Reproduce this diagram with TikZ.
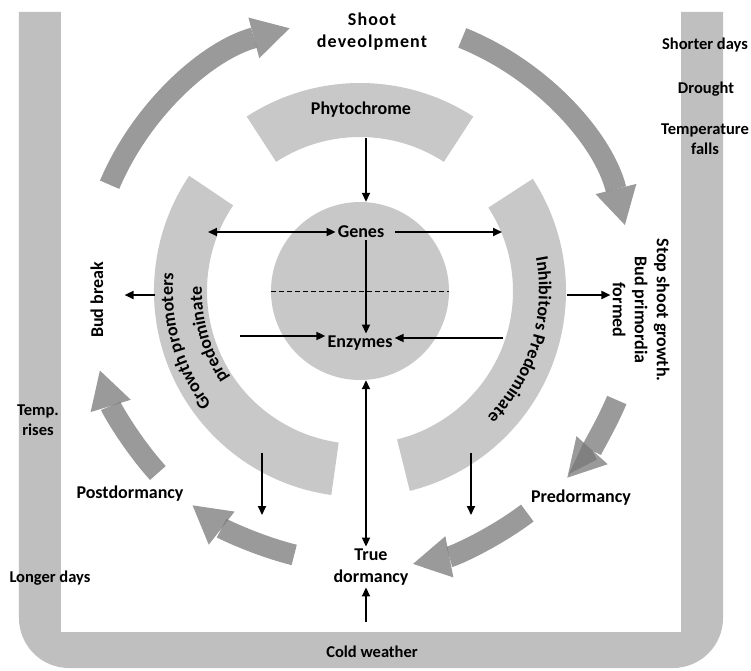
\documentclass[tikz,border=0pt]{standalone}
\usepackage{fontspec}
\setmainfont{Carlito}
\usepackage{tikz}
\usetikzlibrary{arrows.meta,positioning,decorations.text}

\definecolor{framegray}{RGB}{191,191,191}
\definecolor{bandgray}{RGB}{200,200,200}
\definecolor{cyclegray}{RGB}{120,120,120}
\newcommand{\stagefont}{\fontsize{18}{22}\selectfont\bfseries}
\newcommand{\cuefont}{\fontsize{16.5}{20}\selectfont\bfseries}

\begin{document}
\begin{tikzpicture}[
    x=1pt, y=1pt,
    stage/.style={font=\stagefont, align=center, inner sep=2pt},
    cue/.style={font=\cuefont, align=center, inner sep=2pt},
    band/.style={fill=bandgray},
    cyclearrow/.style={draw=cyclegray, opacity=0.75, line width=21pt,
                       -{Triangle[width=42pt, length=37pt, line width=0pt]}},
    arrow/.style={-{Triangle[length=9pt, width=8pt]}, line width=1.8pt},
    dblarrow/.style={{Triangle[length=9pt, width=8pt]}-{Triangle[length=9pt, width=8pt]}, line width=1.8pt}
]
    \useasboundingbox (-360,-379) rectangle (391,291);

    % Outer frame: seasonal cues
    \fill[framegray] (-341,279) -- (-341,-327) arc[start angle=180, end angle=270, radius=50]
        -- (313,-377) arc[start angle=-90, end angle=0, radius=50]
        -- (363,279) -- (321,279) -- (321,-341) -- (-299,-341) -- (-299,279) -- cycle;

    % Bands round the cell
    \fill[band] (57:154) arc[start angle=57, end angle=123, radius=154]
        -- (123:208) arc[start angle=123, end angle=57, radius=208] -- cycle;
    \fill[band] (146:153) arc[start angle=146, end angle=262, radius=153]
        -- (262:206) arc[start angle=262, end angle=146, radius=206] -- cycle;
    \fill[band] (-76:153) arc[start angle=-76, end angle=33, radius=153]
        -- (33:206) arc[start angle=33, end angle=-76, radius=206] -- cycle;
    \node[circle, fill=bandgray, minimum size=178pt, inner sep=0pt] (cell) at (0,0) {};
    \draw[dashed, line width=1pt, dash pattern=on 5pt off 3pt] (cell.west) -- (cell.east);

    % Band texts
    \path[decorate, decoration={text along path, text align=center,
        text={|\stagefont|Inhibitors Predominate}}]
        (30:179) arc[start angle=30, end angle=-64, radius=179];
    \path[decorate, decoration={text along path, text align=center,
        text={|\stagefont|Growth promoters}}]
        (240:187) arc[start angle=240, end angle=152, radius=187];
    \path[decorate, decoration={text along path, text align=center,
        text={|\stagefont|predominate}}]
        (240:158) arc[start angle=240, end angle=152, radius=158];

    % Annual cycle
    \draw[cyclearrow] (157:272) arc[start angle=157, end angle=105, radius=272];
    \draw[cyclearrow] (68:273) arc[start angle=68, end angle=14, radius=273];
    \draw[cyclearrow] (-23:279) arc[start angle=-23, end angle=-42, radius=279];
    \draw[cyclearrow] (-53:278) arc[start angle=-53, end angle=-79, radius=278];
    \draw[cyclearrow] (-104:272) arc[start angle=-104, end angle=-128, radius=272];
    \draw[cyclearrow] (-138:272) arc[start angle=-138, end angle=-163, radius=272];

    % Stages
    \node[stage, font=\stagefont\addfontfeature{LetterSpace=6}] (shoot) at (12,259) {Shoot\\deveolpment};
    \node[stage] (phyto) at (1,181) {Phytochrome};
    \node[stage] (genes) at (1,59) {Genes};
    \node[stage] (enzymes) at (0,-52) {Enzymes};
    \node[stage] (truedorm) at (11,-276) {True\\dormancy};
    \node[stage] (postdorm) at (-230,-203) {Postdormancy};
    \node[stage] (predorm) at (221,-207) {Predormancy};
    \node[stage, rotate=90] (budbreak) at (-263,-9) {Bud break};
    \node[stage, rotate=-90] (stopshoot) at (281,-19) {Stop shoot growth.\\Bud primordia\\formed};

    % Cues
    \node[cue] (temprise) at (-322,-129) {Temp.\\rises};
    \node[cue] (longer) at (-310,-287) {Longer days};
    \node[cue] (cold) at (12,-361) {Cold weather};
    \node[cue] (shorter) at (345,246) {Shorter days};
    \node[cue] (drought) at (346,202) {Drought};
    \node[cue] (tempfall) at (345,152) {Temperature\\falls};

    % Arrows
    \coordinate (phyto-foot) at (6,153);
    \coordinate (grow-genes) at (-152,59);
    \coordinate (inhib-genes) at (142,59);
    \coordinate (grow-enz) at (-120,-45);
    \coordinate (inhib-enz) at (143,-47);
    \coordinate (grow-bud) at (-205,-4);
    \coordinate (inhib-stop) at (207,-4);
    \coordinate (grow-foot) at (-98,-162);
    \coordinate (grow-drop) at (-98,-224);
    \coordinate (inhib-foot) at (111,-162);
    \coordinate (inhib-drop) at (111,-224);

    \draw[arrow] (phyto-foot) -- (phyto-foot |- cell.north);
    \draw[arrow] ([xshift=5pt]genes.south) -- ([xshift=6pt]enzymes.north);
    \draw[dblarrow] (grow-genes) -- (genes);
    \draw[arrow, shorten <=9pt] (genes) -- (inhib-genes);
    \draw[arrow] (grow-enz) -- (grow-enz -| enzymes.west);
    \draw[arrow] (inhib-enz) -- (inhib-enz -| enzymes.east);
    \draw[dblarrow] ([xshift=6pt]cell.south) -- ([xshift=-5pt]truedorm.north);
    \draw[arrow] (grow-foot) -- (grow-drop);
    \draw[arrow] (inhib-foot) -- (inhib-drop);
    \draw[arrow, shorten >=19pt] (grow-bud) -- (grow-bud -| budbreak.south);
    \draw[arrow] (inhib-stop) -- (inhib-stop -| stopshoot.south);
    \draw[arrow, shorten <=22pt] ([xshift=-6pt]cold.north) -- ([xshift=-5pt]truedorm.south);
\end{tikzpicture}
\end{document}
